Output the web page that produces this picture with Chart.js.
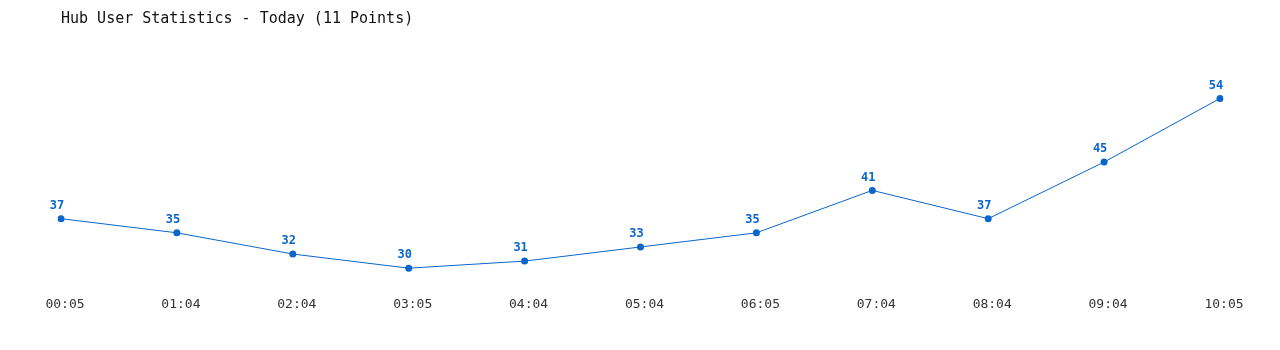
<!DOCTYPE html>
<html>
<head>
<meta charset="utf-8">
<script src="https://cdn.jsdelivr.net/npm/chart.js@4/dist/chart.umd.min.js"></script>
<style>
  html, body { margin: 0; padding: 0; background: #fff; }
  #wrap { width: 1280px; height: 350px; }
</style>
</head>
<body>
<div id="wrap"><canvas id="hubChart"></canvas></div>
<script>
const times = ['00:05', '01:04', '02:04', '03:05', '04:04', '05:04', '06:05', '07:04', '08:04', '09:04', '10:05'];
const users = [37, 35, 32, 30, 31, 33, 35, 41, 37, 45, 54];
const chartTitle = 'Hub User Statistics - Today (11 Points)';

const blue = '#0a66cc';

// labels above each point
const pointLabels = {
    id: 'pointLabels',
    afterDatasetsDraw(chart) {
        const ctx = chart.ctx;
        const meta = chart.getDatasetMeta(0);
        ctx.save();
        ctx.font = 'bold 12px "DejaVu Sans Mono", monospace';
        ctx.fillStyle = blue;
        ctx.textAlign = 'center';
        ctx.textBaseline = 'middle';
        meta.data.forEach((pt, i) => {
            ctx.fillText(String(users[i]), pt.x - 4, pt.y - 13);
        });
        ctx.restore();
    }
};

new Chart(document.getElementById('hubChart'), {
    type: 'line',
    data: {
        labels: times,
        datasets: [{
            data: users,
            borderColor: blue,
            backgroundColor: blue,
            borderWidth: 1,
            pointRadius: 3.5,
            pointHoverRadius: 3.5,
            pointBackgroundColor: blue,
            pointBorderWidth: 0,
            tension: 0,
            fill: false
        }]
    },
    options: {
        responsive: true,
        maintainAspectRatio: false,
        animation: false,
        layout: { padding: { left: 61, right: 60, top: 0, bottom: 31 } },
        plugins: {
            legend: { display: false },
            tooltip: { enabled: false },
            title: {
                display: true,
                text: chartTitle,
                align: 'start',
                color: '#111',
                font: { family: '"DejaVu Sans Mono", monospace', size: 15, weight: 'normal', lineHeight: 1.2 },
                padding: { top: 10, bottom: 28 }
            }
        },
        scales: {
            x: {
                offset: false,
                grid: { display: false, drawTicks: false },
                border: { display: false },
                ticks: {
                    color: '#333',
                    padding: 7,
                    labelOffset: 4,
                    maxRotation: 0,
                    autoSkip: false,
                    font: { family: '"DejaVu Sans Mono", monospace', size: 13 }
                }
            },
            y: {
                display: false,
                min: 27,
                max: 60
            }
        }
    },
    plugins: [pointLabels]
});
</script>
</body>
</html>
